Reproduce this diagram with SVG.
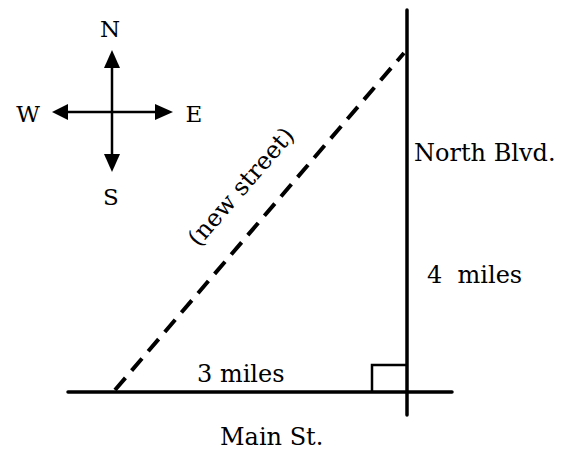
<svg xmlns="http://www.w3.org/2000/svg" width="564" height="451" viewBox="0 0 564 451">
<style>
text{font-family:"DejaVu Serif","Liberation Serif",serif;font-size:24px;fill:#000}
.cp{font-size:23px}
.l{stroke:#000;stroke-width:3.5;fill:none;stroke-linecap:round}
.c{stroke:#000;stroke-width:2.5;fill:none}
.d{stroke:#000;stroke-width:4;fill:none;stroke-dasharray:16,9.5}
.ah{fill:#000}
</style>
<rect width="564" height="451" fill="#fff"/>
<g id="compass">
<path d="M112,112 L112,60" class="c"/>
<path d="M112,112 L112,162" class="c"/>
<path d="M112,112 L62,112" class="c"/>
<path d="M112,112 L163,112" class="c"/>
<polygon class="ah" points="112,50 104,68 120,68"/>
<polygon class="ah" points="112,172 104,154 120,154"/>
<polygon class="ah" points="52,112 68,104 68,120"/>
<polygon class="ah" points="173,112 155,104 155,120"/>
<text class="cp" x="110" y="37" text-anchor="middle">N</text>
<text class="cp" x="111" y="205" text-anchor="middle">S</text>
<text class="cp" x="28" y="122" text-anchor="middle">W</text>
<text class="cp" x="194" y="122" text-anchor="middle">E</text>
</g>
<g id="connectors">
<path d="M407,10 L407,415" class="l"/>
<path d="M68,392 L452,392" class="l"/>
<path d="M372,392 L372,365 L407,365" class="c"/>
<path d="M115,390 L404,53" class="d"/>
</g>
<g id="labels">
<text x="414" y="161">North Blvd.</text>
<text x="427" y="283" xml:space="preserve">4  miles</text>
<text x="197" y="382">3 miles</text>
<text x="220" y="445">Main St.</text>
<text x="0" y="0" font-size="22" text-anchor="middle" transform="translate(247,192) rotate(-49)">(new street)</text>
</g>
</svg>
